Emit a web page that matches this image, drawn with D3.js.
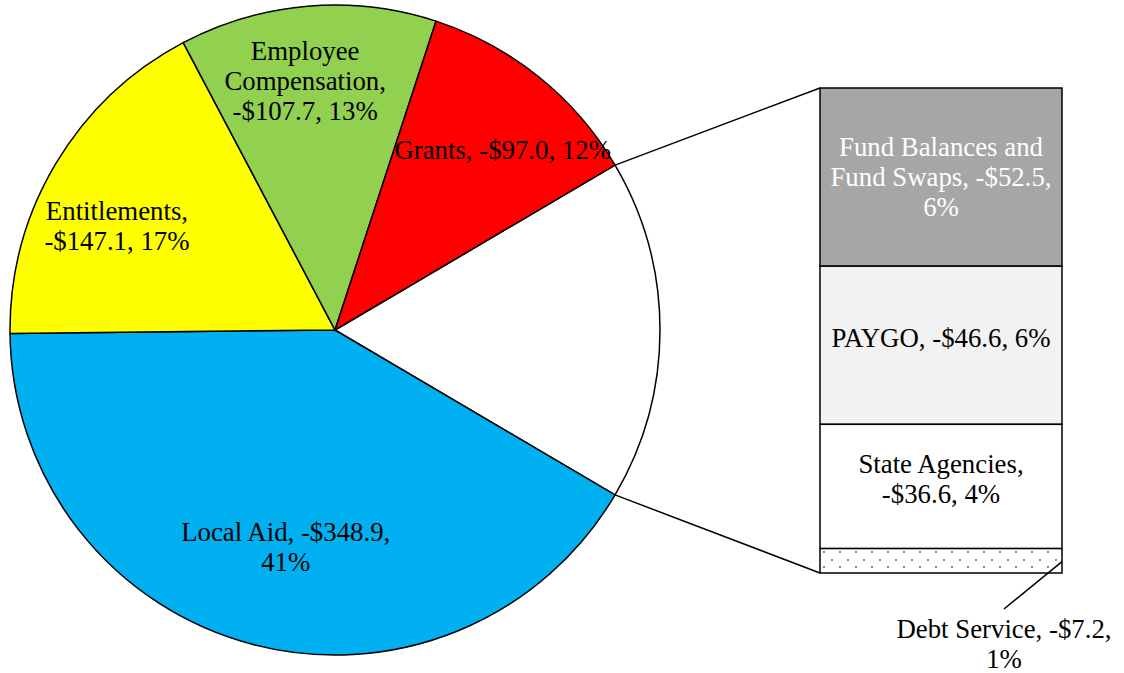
<!DOCTYPE html>
<html>
<head>
<meta charset="utf-8">
<script src="https://cdn.jsdelivr.net/npm/d3@7"></script>
<style>
  body { margin: 0; background: #fff; }
  svg { font-family: "Liberation Serif", "Times New Roman", serif; font-size: 26.8px; }
</style>
</head>
<body>
<svg width="1124" height="673"></svg>
<script>
// pie slices (other = sum of bar)
var pieNames = ["Other", "Local Aid", "Entitlements", "Employee Compensation", "Grants"];
var pieValues = [142.9, 348.9, 147.1, 107.7, 97.0];
var piePct = ["17%", "41%", "17%", "13%", "12%"];
var pieColors = ["#ffffff", "#00b0f0", "#ffff00", "#92d050", "#ff0000"];
var pieLabels = [
    null,
    ["Local Aid, -$348.9,", "41%"],
    ["Entitlements,", "-$147.1, 17%"],
    ["Employee", "Compensation,", "-$107.7, 13%"],
    ["Grants, -$97.0, 12%"]
];

// bar of "Other"
var barNames = ["Fund Balances and Fund Swaps", "PAYGO", "State Agencies", "Debt Service"];
var barValues = [52.5, 46.6, 36.6, 7.2];
var barPct = ["6%", "6%", "4%", "1%"];
var barColors = ["#a6a6a6", "#f2f2f2", "#ffffff", "url(#dots)"];
var barLabels = [
    ["Fund Balances and", "Fund Swaps, -$52.5,", "6%"],
    ["PAYGO, -$46.6, 6%"],
    ["State Agencies,", "-$36.6, 4%"],
    ["Debt Service, -$7.2,", "1%"]
];

var svg = d3.select("svg");
var cx = 335, cy = 330, R = 325;
var lineH = 30;

var defs = svg.append("defs");
var pat = defs.append("pattern")
    .attr("id", "dots")
    .attr("patternUnits", "userSpaceOnUse")
    .attr("width", 16).attr("height", 15)
    .attr("x", 821).attr("y", 549);
pat.append("rect").attr("width", 16).attr("height", 15).attr("fill", "#fff");
pat.append("rect").attr("x", 2).attr("y", 2).attr("width", 2).attr("height", 2).attr("fill", "#5b9bd5");
pat.append("rect").attr("x", 10).attr("y", 10).attr("width", 2).attr("height", 2).attr("fill", "#5b9bd5");

var total = d3.sum(pieValues);
var otherAng = 2 * Math.PI * pieValues[0] / total;
var start = Math.PI / 2 - otherAng / 2;

var pie = d3.pie().sort(null).startAngle(start).endAngle(start + 2 * Math.PI);
var arcs = pie(pieValues);
var arc = d3.arc().innerRadius(0).outerRadius(R);
var labelArc = d3.arc().innerRadius(R * 0.72).outerRadius(R * 0.72);

var g = svg.append("g").attr("transform", "translate(" + cx + "," + cy + ")");
g.selectAll("path")
    .data(arcs)
    .enter()
    .append("path")
    .attr("d", arc)
    .attr("fill", (d, i) => pieColors[i])
    .attr("stroke", "#000")
    .attr("stroke-width", 1.5);

// small nudges for label placement (relative to centroid, baseline-centred)
var pieNudge = [[0, 0], [11, 0], [-17, 25], [-10, -7], [21, 11]];

g.selectAll("text.pl")
    .data(arcs)
    .enter()
    .filter((d, i) => pieLabels[i])
    .append("text")
    .attr("class", "pl")
    .attr("text-anchor", "middle")
    .each(function (d) {
        var i = d.index;
        var c = labelArc.centroid(d);
        var lines = pieLabels[i];
        var x = c[0] + pieNudge[i][0];
        var y0 = c[1] + pieNudge[i][1] - (lines.length - 1) * lineH / 2;
        d3.select(this).selectAll("tspan")
            .data(lines)
            .enter()
            .append("tspan")
            .attr("x", x)
            .attr("y", (t, k) => y0 + k * lineH)
            .text(t => t);
    });

// bar
var bx = 820, bw = 242, bTop = 88, bBot = 573;
var y = d3.scaleLinear().domain([0, d3.sum(barValues)]).range([bTop, bBot]);
var stack = [];
var acc = 0;
barValues.forEach(function (v) { stack.push([acc, acc + v]); acc += v; });

svg.selectAll("rect.bar")
    .data(stack)
    .enter()
    .append("rect")
    .attr("class", "bar")
    .attr("x", bx)
    .attr("width", bw)
    .attr("y", d => y(d[0]))
    .attr("height", d => y(d[1]) - y(d[0]))
    .attr("fill", (d, i) => barColors[i])
    .attr("stroke", "#000")
    .attr("stroke-width", 1.5);

// connector lines from pie edge to bar
var a0 = arcs[0].startAngle, a1 = arcs[0].endAngle;
svg.append("line")
    .attr("x1", cx + R * Math.sin(a0)).attr("y1", cy - R * Math.cos(a0))
    .attr("x2", bx).attr("y2", bTop)
    .attr("stroke", "#000").attr("stroke-width", 1.5);
svg.append("line")
    .attr("x1", cx + R * Math.sin(a1)).attr("y1", cy - R * Math.cos(a1))
    .attr("x2", bx).attr("y2", bBot)
    .attr("stroke", "#000").attr("stroke-width", 1.5);

// bar labels
var barText = ["#fff", "#000", "#000", "#000"];
var barNudge = [9, 2, 2, 0];
stack.forEach(function (d, i) {
    var lines = barLabels[i];
    var mid = (y(d[0]) + y(d[1])) / 2 + barNudge[i];
    var x = bx + bw / 2;
    if (i === 3) {
        // outside label with leader
        x = 1004;
        mid = 653;
        svg.append("line")
            .attr("x1", bx + bw).attr("y1", y(d[0]) + 13)
            .attr("x2", 1004).attr("y2", 609)
            .attr("stroke", "#000").attr("stroke-width", 1.5);
    }
    var y0 = mid - (lines.length - 1) * lineH / 2;
    var t = svg.append("text")
        .attr("text-anchor", "middle")
        .attr("fill", barText[i]);
    t.selectAll("tspan")
        .data(lines)
        .enter()
        .append("tspan")
        .attr("x", x)
        .attr("y", (s, k) => y0 + k * lineH)
        .text(s => s);
});
</script>
</body>
</html>
